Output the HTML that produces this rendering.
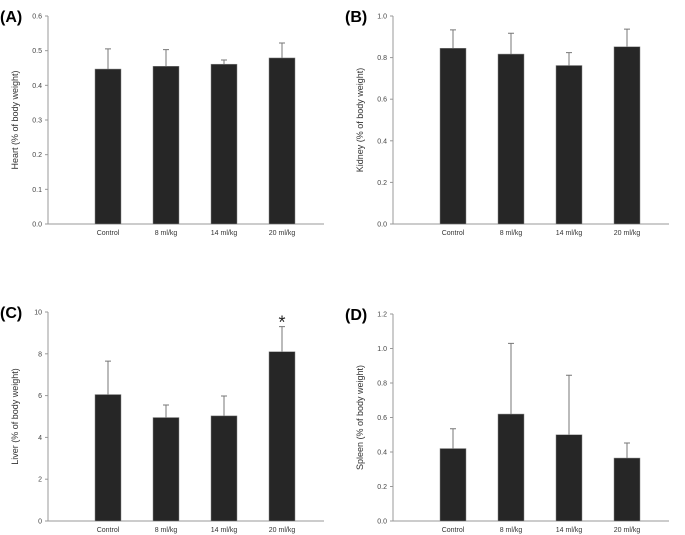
<!DOCTYPE html>
<html><head><meta charset="utf-8"><style>
html,body{margin:0;padding:0;background:#fff;width:685px;height:535px;overflow:hidden}
svg{font-family:"Liberation Sans",sans-serif}
</style></head><body>
<svg id="fig" width="685" height="535"></svg>
<script>
const categories=["Control","8 ml/kg","14 ml/kg","20 ml/kg"];
const heartVals=[0.447,0.455,0.461,0.479];
const heartErr=[0.058,0.048,0.012,0.043];
const kidneyVals=[0.845,0.817,0.762,0.852];
const kidneyErr=[0.088,0.100,0.062,0.085];
const liverVals=[6.05,4.95,5.03,8.1];
const liverErr=[1.6,0.6,0.95,1.2];
const spleenVals=[0.42,0.62,0.50,0.365];
const spleenErr=[0.115,0.41,0.345,0.087];
const heartTicks=["0.0","0.1","0.2","0.3","0.4","0.5","0.6"];
const kidneyTicks=["0.0","0.2","0.4","0.6","0.8","1.0"];
const liverTicks=["0","2","4","6","8","10"];
const spleenTicks=["0.0","0.2","0.4","0.6","0.8","1.0","1.2"];
const panels=[
 {id:"A",title:"Heart (% of body weight)",vals:heartVals,err:heartErr,ticks:heartTicks,max:0.6,ox:48,top:16,bot:224,star:-1},
 {id:"B",title:"Kidney (% of body weight)",vals:kidneyVals,err:kidneyErr,ticks:kidneyTicks,max:1.0,ox:393,top:16,bot:224,star:-1},
 {id:"C",title:"Liver (% of body weight)",vals:liverVals,err:liverErr,ticks:liverTicks,max:10,ox:48,top:312,bot:521,star:3},
 {id:"D",title:"Spleen (% of body weight)",vals:spleenVals,err:spleenErr,ticks:spleenTicks,max:1.2,ox:393,top:314,bot:521,star:-1}
];
const NS="http://www.w3.org/2000/svg";
const svg=document.getElementById("fig");
function mk(t,a,p){const e=document.createElementNS(NS,t);for(const k in a)e.setAttribute(k,a[k]);(p||svg).appendChild(e);return e;}
panels.forEach(p=>{
 const g=mk("g",{});
 
 
 const y=v=>p.bot-(v/p.max)*(p.bot-p.top);
 const x=i=>p.ox+60+i*58;
 const lab=mk("text",{x:p.ox-48,y:p.top+6,"font-size":"16","font-weight":"bold",fill:"#000"},g);
 lab.textContent="("+p.id+")";
 
 
 const ax=mk("path",{d:`M${p.ox},${p.top}V${p.bot}H${p.ox+276}`,stroke:"#999",fill:"none","stroke-width":"1"},g);
 
 
 p.ticks.forEach(t=>{
  const ty=y(parseFloat(t));
  mk("line",{x1:p.ox-3,x2:p.ox,y1:ty,y2:ty,stroke:"#999"},g);
  const tt=mk("text",{x:p.ox-6,y:ty+2.5,"font-size":"7","text-anchor":"end",fill:"#444"},g);
  tt.textContent=t;
  
  
 });
 const yt=mk("text",{transform:`translate(${p.ox-30},${(p.top+p.bot)/2}) rotate(-90)`,"font-size":"9","text-anchor":"middle",fill:"#333"},g);
 yt.textContent=p.title;
 
 
 p.vals.forEach((v,i)=>{
  const cx=x(i);
  const eb=mk("path",{d:`M${cx},${y(v)}V${y(v+p.err[i])}M${cx-3},${y(v+p.err[i])}H${cx+3}`,stroke:"#777","stroke-width":"1",fill:"none"},g);
  
  
  const r=mk("rect",{x:cx-13,y:y(v),width:26,height:p.bot-y(v),fill:"#262626",stroke:"#888","stroke-width":"0.5"},g);
  
  
  const xl=mk("text",{x:cx,y:p.bot+11,"font-size":"7","text-anchor":"middle",fill:"#333"},g);
  xl.textContent=categories[i];
  
  
  if(i===p.star){
   const s=mk("text",{x:cx,y:y(v+p.err[i])+2,"font-size":"18","text-anchor":"middle",fill:"#222"},g);
   s.textContent="*";
   
   
  }
 });
});
</script>
</body></html>
